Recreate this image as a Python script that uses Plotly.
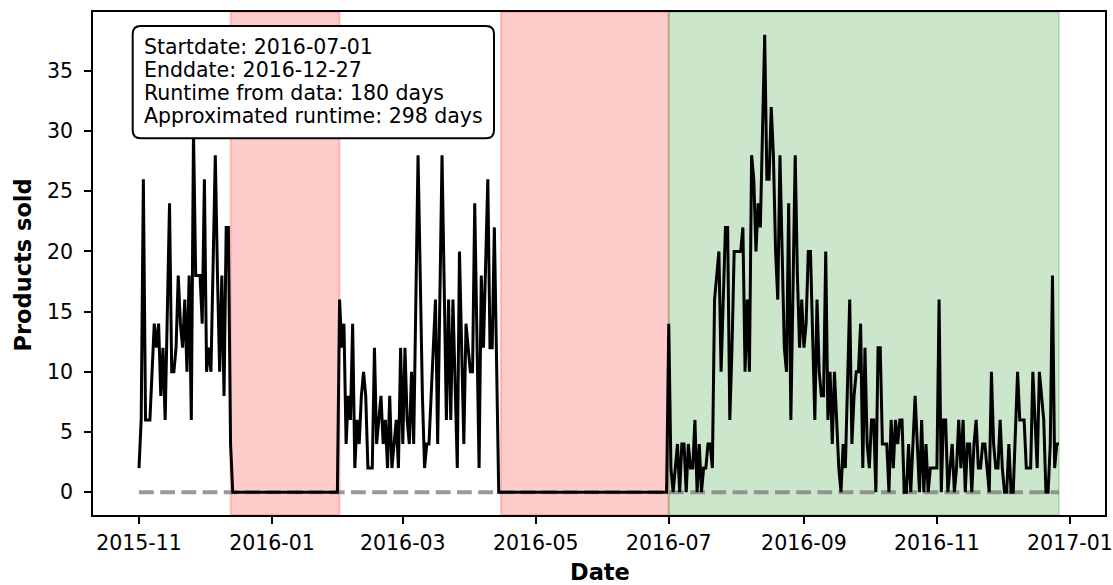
import pandas as pd
import plotly.graph_objects as go

# ---------------- data ----------------
start_date = "2015-11-01"
# daily sales, 2015-11-01 .. 2015-12-13
sales_first = [2, 6, 26, 6, 6, 6, 10, 14, 12, 14, 8, 12, 6, 16, 24, 10, 10, 12, 18, 14,
               12, 16, 10, 18, 6, 30, 18, 18, 18, 14, 26, 10, 12, 10, 18, 28, 18, 10, 18, 8,
               22, 22, 4]
gap1_len = 49
# daily sales, 2016-02-01 .. 2016-04-14
sales_second = [16, 12, 14, 4, 8, 6, 14, 2, 6, 4, 8, 10, 8, 2, 2, 2, 12, 4, 6, 8,
                4, 6, 2, 8, 2, 4, 6, 2, 12, 4, 12, 6, 4, 10, 4, 16, 28, 18, 8, 2,
                4, 4, 8, 12, 16, 4, 16, 28, 17, 6, 16, 6, 16, 9, 2, 20, 12, 4, 14, 12,
                10, 10, 24, 13, 2, 18, 12, 19, 26, 12, 12, 22, 10, 0]
gap2_len = 77
# daily sales during the runtime, 2016-07-01 .. 2016-12-27
sales_runtime = [14, 2, 0, 2, 4, 0, 4, 4, 0, 4, 2, 2, 6, 0, 4, 0, 2, 2, 4, 4,
                 2, 16, 18, 20, 10, 16, 22, 22, 6, 12, 20, 20, 20, 20,
                 22, 10, 16, 10, 28, 26, 20, 24, 22, 30, 38, 26, 26, 32, 28, 20, 16, 28, 20, 12,
                 10, 24, 6, 18, 28, 18, 12, 16, 12, 14, 20, 20, 14, 6, 16, 10, 8, 8, 20, 6,
                 10, 4, 10, 6, 2, 0, 4, 2, 10,
                 16, 4, 8, 10, 10, 14, 2, 12, 4, 2, 6, 6, 0, 12, 12, 4, 4, 4, 0, 6,
                 2, 6, 4, 6, 6, 0, 0, 4, 0, 4, 8, 4, 0, 6, 0, 4, 0, 2, 2, 2,
                 2, 16, 0, 6, 6, 0, 2,
                 4, 0, 2, 6, 2, 6, 0, 4, 4, 0, 4, 6, 2, 2, 4, 4, 2, 0, 10, 4,
                 2, 2, 6, 2, 0, 0, 4, 0, 0, 6, 10, 6, 6, 6, 2, 2, 2, 10, 6, 2,
                 10, 8, 6, 0, 0, 4, 18, 2, 4, 4]

red_spans = [("2015-12-13", "2016-02-01"), ("2016-04-15", "2016-07-01")]
green_span = ("2016-07-01", "2016-12-27")

info_lines = ["Startdate: 2016-07-01",
              "Enddate: 2016-12-27",
              "Runtime from data: 180 days",
              "Approximated runtime: 298 days"]

tick_dates = ["2015-11-01", "2016-01-01", "2016-03-01", "2016-05-01",
              "2016-07-01", "2016-09-01", "2016-11-01", "2017-01-01"]
tick_labels = ["2015-11", "2016-01", "2016-03", "2016-05",
               "2016-07", "2016-09", "2016-11", "2017-01"]
y_ticks = [0, 5, 10, 15, 20, 25, 30, 35]

# ---------------- build ----------------
sales = sales_first + [0] * gap1_len + sales_second + [0] * gap2_len + sales_runtime
dates = pd.date_range(start_date, periods=len(sales), freq="D")

W, H = 1113, 585
L, R, T, B = 93, 8, 12, 70
PW, PH = W - L - R, H - T - B


def px_x(X):
    return (X - L) / PW


def px_y(Y):
    return 1 - (Y - T) / PH


FONT = "DejaVu Sans"
fig = go.Figure()

# zero reference line (dashed grey)
fig.add_trace(go.Scatter(x=[dates[0], dates[-1]], y=[0, 0], mode="lines",
                         line=dict(color="rgba(128,128,128,0.8)", width=4, dash="14.8px,6.4px"),
                         hoverinfo="skip", showlegend=False))
# sales line
fig.add_trace(go.Scatter(x=dates, y=sales, mode="lines",
                         line=dict(color="black", width=3),
                         showlegend=False))

shapes = []
for s, e in red_spans:
    shapes.append(dict(type="rect", xref="x", yref="paper", x0=s, x1=e, y0=0, y1=1,
                       fillcolor="rgba(255,0,0,0.2)", line=dict(color="rgba(255,0,0,0.2)", width=2),
                       layer="below"))
shapes.append(dict(type="rect", xref="x", yref="paper", x0=green_span[0], x1=green_span[1],
                   y0=0, y1=1, fillcolor="rgba(0,128,0,0.2)",
                   line=dict(color="rgba(0,128,0,0.2)", width=2), layer="below"))

# rounded info box
bx0, bx1, by0, by1, rr = 132.7, 494.0, 26.0, 138.3, 8.0


def P(X, Y):
    return f"{px_x(X):.5f},{px_y(Y):.5f}"


path = (f"M {P(bx0 + rr, by0)} L {P(bx1 - rr, by0)} Q {P(bx1, by0)} {P(bx1, by0 + rr)} "
        f"L {P(bx1, by1 - rr)} Q {P(bx1, by1)} {P(bx1 - rr, by1)} "
        f"L {P(bx0 + rr, by1)} Q {P(bx0, by1)} {P(bx0, by1 - rr)} "
        f"L {P(bx0, by0 + rr)} Q {P(bx0, by0)} {P(bx0 + rr, by0)} Z")
shapes.append(dict(type="path", xref="paper", yref="paper", path=path,
                   fillcolor="white", line=dict(color="black", width=2), layer="above"))

annotations = []
baselines = [54.0, 77.1, 100.2, 123.3]
for txt, bl in zip(info_lines, baselines):
    annotations.append(dict(text=txt, xref="paper", yref="paper", x=px_x(143.5), y=px_y(bl - 7.1),
                            xanchor="left", yanchor="middle", showarrow=False,
                            borderpad=0, borderwidth=0,
                            font=dict(family=FONT, size=20.5, color="black")))
annotations.append(dict(text="<b>Date</b>", xref="paper", yref="paper",
                        x=px_x(600), y=px_y(571.5), xanchor="center", yanchor="middle",
                        showarrow=False, font=dict(family=FONT, size=22.5, color="black")))
annotations.append(dict(text="<b>Products sold</b>", xref="paper", yref="paper",
                        x=px_x(22.5), y=px_y(265), xanchor="center", yanchor="middle", textangle=-90,
                        showarrow=False, font=dict(family=FONT, size=22.5, color="black")))

fig.update_layout(
    width=W, height=H,
    margin=dict(l=L, r=R, t=T, b=B, autoexpand=False),
    paper_bgcolor="white", plot_bgcolor="white",
    shapes=shapes, annotations=annotations,
    font=dict(family=FONT, size=20.5, color="black"),
    xaxis=dict(type="date", range=["2015-10-10 21:36", "2017-01-17 02:24"],
               tickvals=tick_dates, ticktext=tick_labels, automargin=False,
               showgrid=False, zeroline=False, showline=True, linecolor="black", linewidth=1.6,
               mirror=True, ticks="outside", ticklen=7, tickwidth=1.6, tickcolor="black",
               ticklabelstandoff=2,
               tickfont=dict(family=FONT, size=20.5, color="black")),
    yaxis=dict(range=[-1.9, 39.9], tickvals=y_ticks, automargin=False,
               showgrid=False, zeroline=False, showline=True, linecolor="black", linewidth=1.6,
               mirror=True, ticks="outside", ticklen=7, tickwidth=1.6, tickcolor="black",
               ticklabelstandoff=7,
               tickfont=dict(family=FONT, size=20.5, color="black")),
)

fig.write_html("out.html")
